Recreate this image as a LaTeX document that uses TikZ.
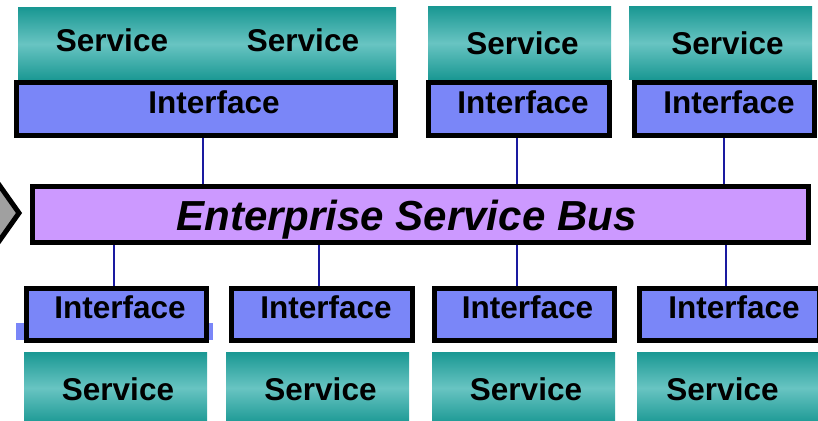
\documentclass[tikz,border=0pt]{standalone}
\usepackage{fontspec}
\setmainfont{Liberation Sans}
\begin{document}
\begin{tikzpicture}[x=1pt,y=-1pt,
  svc/.style={inner sep=0pt, minimum width=183pt, minimum height=72pt,
    top color=teal1, bottom color=teal1, middle color=teal2},
  iface/.style={draw=black, line width=5pt, fill=ifblue, inner sep=0pt,
    minimum width=180pt, minimum height=53pt},
  bus/.style={draw=black, line width=5pt, fill=buspurple, inner sep=0pt,
    minimum width=776pt, minimum height=56pt},
  lbl/.style={anchor=base, inner sep=0pt, font=\fontsize{31.5}{36}\selectfont\bfseries},
  buslbl/.style={anchor=base, inner sep=0pt, font=\fontsize{42}{48}\selectfont\bfseries\itshape},
  link/.style={draw=linkblue, line width=1.6pt}]
\definecolor{teal1}{HTML}{1A9893}
\definecolor{teal2}{HTML}{68C4C2}
\definecolor{ifblue}{HTML}{7A86F8}
\definecolor{buspurple}{HTML}{CC99FF}
\definecolor{linkblue}{HTML}{1A1AA0}
\definecolor{chevgray}{HTML}{A0A0A0}
\useasboundingbox (0,0) rectangle (818,420);
\clip (0,0) rectangle (818,420);

% services above the bus
\node[svc, minimum width=378pt] (ts1) at (207,44) {};
\node[svc] (ts2) at (519.5,43) {};
\node[svc] (ts3) at (720.5,43) {};
\node[lbl] at (112,52) {Service};
\node[lbl] at (303,52) {Service};
\node[lbl] at (522.5,55) {Service};
\node[lbl] at (727.5,55) {Service};

% interfaces above the bus
\node[iface, minimum width=379pt] (ti1) at (206,109) {};
\node[iface, minimum width=181pt] (ti2) at (519,109) {};
\node[iface] (ti3) at (724.5,109) {};
\node[lbl] at (214,113) {Interface};
\node[lbl] at (523,113) {Interface};
\node[lbl] at (729,113) {Interface};

% the bus with its entry chevron
\filldraw[fill=chevgray, draw=black, line width=5pt, line join=miter]
  (-10,172) -- (19,213) -- (-10,254) -- (-40,254) -- (-40,172) -- cycle;
\node[bus] (bus) at (420.5,214.5) {};
\node[buslbl] at (406.5,230) {Enterprise Service Bus};

% services below the bus
\node[svc] (bs1) at (115.5,388) {};
\node[svc] (bs2) at (317.5,388) {};
\node[svc] (bs3) at (523.5,388) {};
\node[svc] (bs4) at (728.5,388) {};
\node[lbl] at (118,400) {Service};
\node[lbl] at (320.5,400) {Service};
\node[lbl] at (526,400) {Service};
\node[lbl] at (722.5,400) {Service};

% interfaces below the bus
\fill[ifblue] (16,323) rectangle (213,340);
\node[iface, minimum height=52pt] (bi1) at (116.5,314.5) {};
\node[iface, minimum height=52pt, minimum width=181pt] (bi2) at (322,314.5) {};
\node[iface, minimum height=52pt] (bi3) at (524.5,314.5) {};
\node[iface, minimum height=52pt] (bi4) at (729.5,314.5) {};
\node[lbl] at (120,318) {Interface};
\node[lbl] at (326,318) {Interface};
\node[lbl] at (527.5,318) {Interface};
\node[lbl] at (734,318) {Interface};

% connections between interfaces and the bus
\path[link] ([xshift=-3pt]ti1.south) -- ([xshift=-3pt]ti1.south |- bus.north);
\path[link] ([xshift=-2pt]ti2.south) -- ([xshift=-2pt]ti2.south |- bus.north);
\path[link] ([xshift=-0.5pt]ti3.south) -- ([xshift=-0.5pt]ti3.south |- bus.north);
\path[link] ([xshift=-2.5pt]bi1.north) -- ([xshift=-2.5pt]bi1.north |- bus.south);
\path[link] ([xshift=-3pt]bi2.north) -- ([xshift=-3pt]bi2.north |- bus.south);
\path[link] ([xshift=-7.5pt]bi3.north) -- ([xshift=-7.5pt]bi3.north |- bus.south);
\path[link] ([xshift=-3.5pt]bi4.north) -- ([xshift=-3.5pt]bi4.north |- bus.south);
\end{tikzpicture}
\end{document}
